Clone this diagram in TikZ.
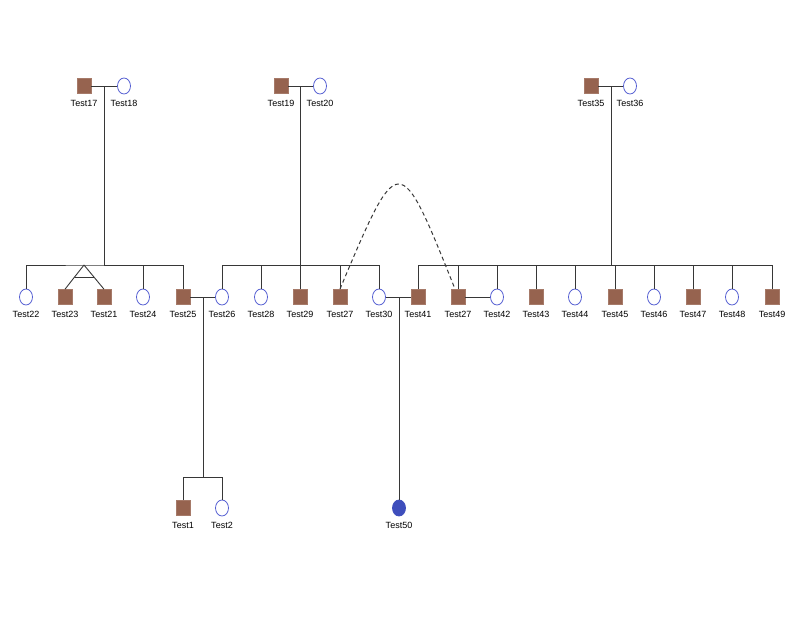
\documentclass[tikz,border=0pt]{standalone}
\usepackage{fontspec}
\setmainfont{Liberation Sans}
\usetikzlibrary{shapes.geometric,calc}
\definecolor{brn}{RGB}{150,99,79}
\definecolor{fblue}{RGB}{85,95,210}
\definecolor{dblue}{RGB}{62,78,188}
\definecolor{ln}{RGB}{55,55,55}
\tikzset{
  male/.style={rectangle,fill=brn,draw=brn!85!white,line width=0.6pt,minimum width=14pt,minimum height=15pt,inner sep=0pt},
  female/.style={ellipse,draw=fblue,line width=0.8pt,minimum width=13pt,minimum height=16pt,inner sep=0pt},
  femaleaff/.style={ellipse,fill=dblue,draw=dblue,line width=0.8pt,minimum width=13pt,minimum height=16pt,inner sep=0pt},
  lbl/.style={font=\fontsize{9}{10}\selectfont,inner sep=0pt},
  rel/.style={draw=ln,line width=1pt},
  twin/.style={draw=ln,line width=0.9pt},
  cons/.style={draw=ln,line width=1pt,dashed,dash pattern=on 4pt off 3pt}
}
\begin{document}
\begin{tikzpicture}[x=1pt,y=-1pt]
\useasboundingbox (0,0) rectangle (798,625);
% generation 1
\node[male] (t17) at (84,86) {};
\node[female] (t18) at (124,86) {};
\node[male] (t19) at (281,86) {};
\node[female] (t20) at (320,86) {};
\node[male] (t35) at (591,86) {};
\node[female] (t36) at (630,86) {};
\node[lbl] (l17) at (84,103) {Test17};
\node[lbl] (l18) at (124,103) {Test18};
\node[lbl] (l19) at (281,103) {Test19};
\node[lbl] (l20) at (320,103) {Test20};
\node[lbl] (l35) at (591,103) {Test35};
\node[lbl] (l36) at (630,103) {Test36};
% generation 2
\foreach \n/\x/\s/\t in {t22/26/female/Test22, t23/65/male/Test23, t21/104/male/Test21, t24/143/female/Test24, t25/183/male/Test25, t26/222/female/Test26, t28/261/female/Test28, t29/300/male/Test29, t27/340/male/Test27, t30/379/female/Test30, t41/418/male/Test41, t27b/458/male/Test27, t42/497/female/Test42, t43/536/male/Test43, t44/575/female/Test44, t45/615/male/Test45, t46/654/female/Test46, t47/693/male/Test47, t48/732/female/Test48, t49/772/male/Test49}{
  \node[\s] (\n) at (\x,297) {};
  \node[lbl] (l\n) at (\x,314) {\t};
}
% generation 3
\node[male] (t1) at (183,508) {};
\node[female] (t2) at (222,508) {};
\node[femaleaff] (t50) at (399,508) {};
\node[lbl] (lt1) at (183,525) {Test1};
\node[lbl] (lt2) at (222,525) {Test2};
\node[lbl] (lt50) at (399,525) {Test50};
% coordinates
\coordinate (m1) at (104,86);
\coordinate (s1) at (104,265);
\coordinate (tw) at (84,265);
\coordinate (m2) at (300,86);
\coordinate (s2) at (300,265);
\coordinate (m3) at (611,86);
\coordinate (s3) at (611,265);
\coordinate (m4) at (203,297);
\coordinate (s4) at (203,477);
\coordinate (m5) at (399,297);
% couples
\draw[rel] (t17) -- (t18);
\draw[rel] (t19) -- (t20);
\draw[rel] (t35) -- (t36);
\draw[rel] (t25) -- (t26);
\draw[rel] (t30) -- (t41);
\draw[rel] (t27b) -- (t42);
% descent lines
\draw[rel] (m1) -- (s1);
\draw[rel] (m2) -- (s2);
\draw[rel] (m3) -- (s3);
\draw[rel] (m4) -- (s4);
\draw[rel] (m5) -- (t50);
% sibship 1
\draw[rel] (t22) |- (s1) -| (t25);
\draw[rel] (t24) |- (s1);
\draw[twin] (tw) -- (t23.north);
\draw[twin] (tw) -- (t21.north);
\draw[twin] ($(tw)!0.5!(t23.north)$) -- ($(tw)!0.5!(t21.north)$);
% sibship 2
\draw[rel] (t26) |- (s2) -| (t30);
\draw[rel] (t28) |- (s2);
\draw[rel] (t29) -- (s2);
\draw[rel] (t27) |- (s2);
% sibship 3
\draw[rel] (t41) |- (s3) -| (t49);
\foreach \n in {t27b,t42,t43,t44,t45,t46,t47,t48}{
  \draw[rel] (\n) |- (s3);
}
% sibship 4
\draw[rel] (t1) |- (s4) -| (t2);
% consanguinity arc
\coordinate (a1) at (340,289);
\coordinate (a2) at (455,289);
\draw[cons] (a1) .. controls (399,149) and (399,149) .. (a2);
\end{tikzpicture}
\end{document}
